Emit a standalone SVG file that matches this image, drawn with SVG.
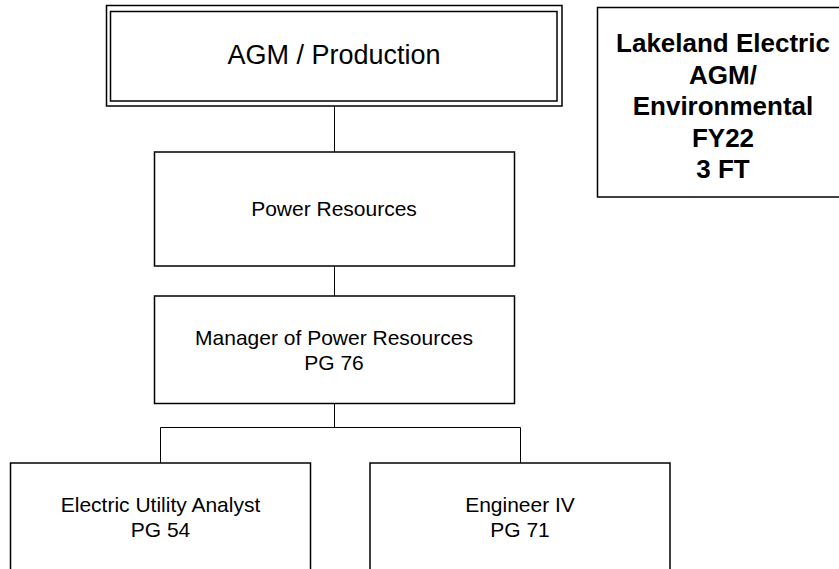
<svg xmlns="http://www.w3.org/2000/svg" width="839" height="569" viewBox="0 0 839 569">
<style>
.box{fill:#fff;stroke:#000;stroke-width:1.5}
.conn{fill:none;stroke:#000;stroke-width:1}
text{font-family:"Liberation Sans",Arial,sans-serif;fill:#000;text-anchor:middle}
.t21{font-size:21px}
.leg{font-size:26px;font-weight:bold}
</style>
<rect width="839" height="569" fill="#fff"/>
<g id="connectors">
<line class="conn" x1="334.5" y1="106" x2="334.5" y2="152"/>
<line class="conn" x1="334.5" y1="266" x2="334.5" y2="296"/>
<line class="conn" x1="334.5" y1="403" x2="334.5" y2="427.5"/>
<polyline class="conn" points="160.5,463 160.5,427.5 520.5,427.5 520.5,463"/>
</g>
<g id="agm-production">
<rect class="box" x="106.5" y="5.5" width="455.5" height="100.5"/>
<rect class="box" x="110.5" y="11.5" width="446.5" height="89.5"/>
<text x="334" y="64" font-size="27">AGM / Production</text>
</g>
<g id="legend">
<rect class="box" x="597.5" y="7.5" width="260" height="189.5"/>
<text class="leg" x="723" y="52">Lakeland Electric</text>
<text class="leg" x="723" y="83.5">AGM/</text>
<text class="leg" x="723" y="115">Environmental</text>
<text class="leg" x="723" y="146.5">FY22</text>
<text class="leg" x="723" y="178">3 FT</text>
</g>
<g id="power-resources">
<rect class="box" x="154.5" y="152" width="360" height="114"/>
<text class="t21" x="334" y="216">Power Resources</text>
</g>
<g id="manager">
<rect class="box" x="154.5" y="296" width="360" height="107.5"/>
<text class="t21" x="334" y="344.5">Manager of Power Resources</text>
<text class="t21" x="334" y="369.5">PG 76</text>
</g>
<g id="analyst">
<rect class="box" x="10.5" y="463" width="300" height="120"/>
<text class="t21" x="160.5" y="511.5">Electric Utility Analyst</text>
<text class="t21" x="160.5" y="536.5">PG 54</text>
</g>
<g id="engineer">
<rect class="box" x="370" y="463" width="300" height="120"/>
<text class="t21" x="520" y="511.5">Engineer IV</text>
<text class="t21" x="520" y="536.5">PG 71</text>
</g>
</svg>
